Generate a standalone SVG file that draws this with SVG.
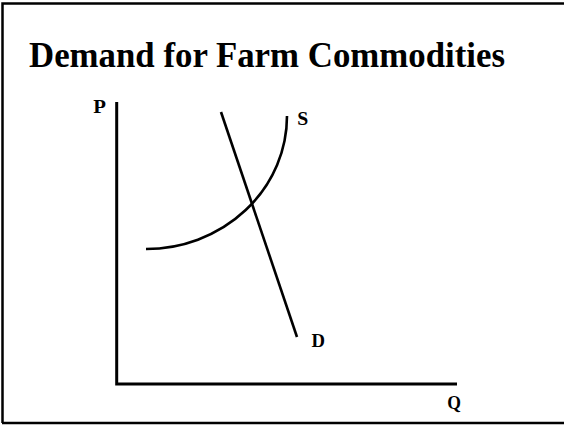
<svg xmlns="http://www.w3.org/2000/svg" width="564" height="425" viewBox="0 0 564 425">
<style>
.t{font-family:"Liberation Serif","Times New Roman",serif;font-weight:bold;fill:#000}
.l{font-size:18.5px}
.ln{fill:none;stroke:#000;stroke-width:2.6}
.ax{fill:none;stroke:#000;stroke-width:3}
</style>
<rect x="0" y="0" width="564" height="425" fill="#fff"/>
<path d="M2.5,423 V3.5 H566" fill="none" stroke="#000" stroke-width="2.5"/>
<path d="M2,423 H566" fill="none" stroke="#000" stroke-width="2.5"/>
<g id="title"><text class="t" x="29" y="67" font-size="35" textLength="476" lengthAdjust="spacingAndGlyphs">Demand for Farm Commodities</text></g>
<g id="axes">
<path class="ax" d="M116.7,102 V384 H457"/>
<text class="t l" x="93.3" y="112.5" textLength="12.7" lengthAdjust="spacingAndGlyphs">P</text>
<text class="t l" x="447.3" y="408.5" textLength="13.7" lengthAdjust="spacingAndGlyphs">Q</text>
</g>
<g id="connectors">
<g id="supply"><path class="ln" d="M146,249 A141,133 0 0 0 287,116"/>
<text class="t l" x="297.3" y="125.3" textLength="11" lengthAdjust="spacingAndGlyphs">S</text></g>
<g id="demand"><path class="ln" d="M221,112 L297,337"/>
<text class="t l" x="311.5" y="347" textLength="13.5" lengthAdjust="spacingAndGlyphs">D</text></g>
</g>
</svg>
